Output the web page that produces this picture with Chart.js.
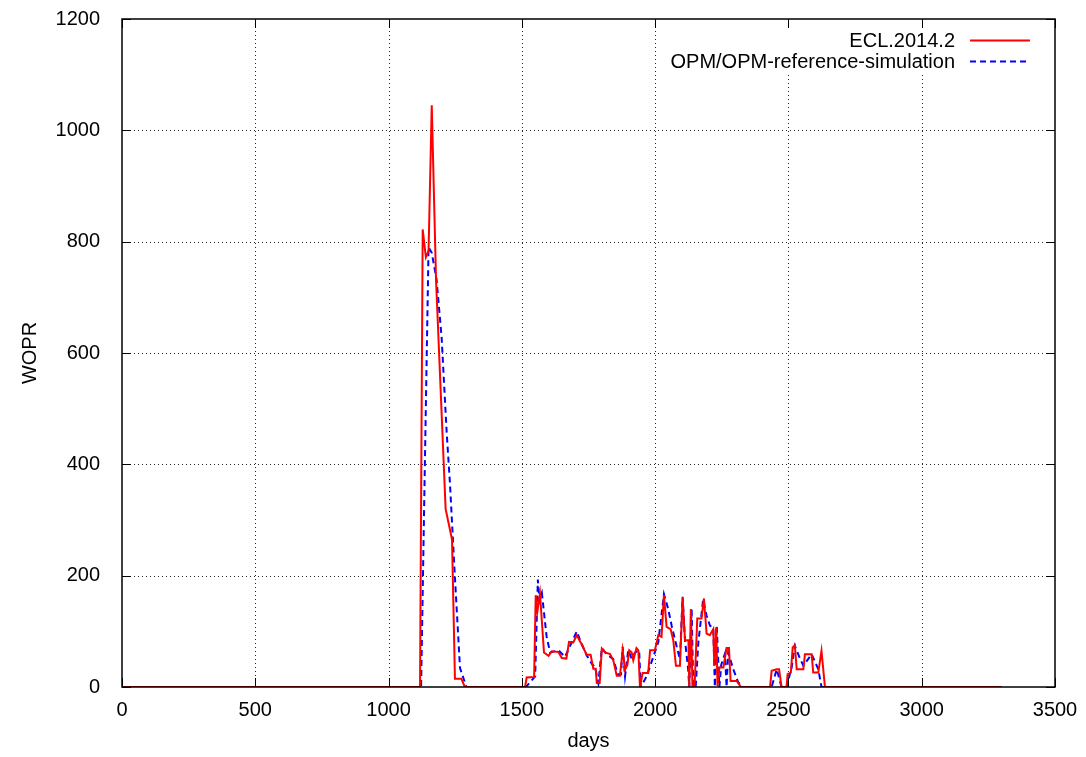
<!DOCTYPE html>
<html>
<head>
<meta charset="utf-8">
<script src="https://cdn.jsdelivr.net/npm/chart.js@4.4.1/dist/chart.umd.min.js"></script>
<style>
html,body{margin:0;padding:0;background:#fff;}
canvas{display:block;}
</style>
</head>
<body>
<canvas id="c" width="1086" height="757"></canvas>
<script>
// ---- data ----
const seriesNames = ["ECL.2014.2", "OPM/OPM-reference-simulation"];
const xTicks = [0, 500, 1000, 1500, 2000, 2500, 3000, 3500];
const yTicks = [0, 200, 400, 600, 800, 1000, 1200];

const eclDays = [0,1118,1128,1140,1150,1162,1178,1214,1238,1249,1273,1286,1512,1518,1546,1552,1558,1568,1583,1600,1612,1637,1650,1667,1677,1693,1706,1725,1743,1758,1768,1777,1781,1792,1800,1812,1831,1843,1856,1868,1878,1887,1896,1903,1912,1918,1930,1937,1943,1953,1974,1981,1999,2012,2024,2033,2043,2058,2068,2078,2093,2103,2112,2125,2128,2134,2140,2148,2158,2174,2183,2193,2205,2218,2222,2229,2234,2241,2256,2268,2277,2283,2306,2322,2431,2437,2456,2465,2474,2493,2497,2509,2516,2524,2531,2556,2562,2587,2593,2612,2624,2637,3300];
const eclWopr = [0,0,822,772,783,1045,732,320,265,15,15,0,0,17,18,165,135,168,62,56,64,63,52,51,81,80,93,76,58,58,33,33,7,7,69,62,59,48,20,20,66,31,40,66,62,48,70,66,0,25,25,66,66,93,90,165,108,104,84,38,38,160,84,84,0,140,0,0,123,123,159,96,93,104,38,107,2,35,35,70,70,11,11,0,0,29,32,32,0,0,23,26,71,75,32,32,59,59,26,26,65,0,0];

const opmDays = [0,1122,1150,1162,1180,1199,1218,1230,1249,1268,1280,1292,1515,1530,1550,1560,1566,1575,1593,1606,1637,1662,1706,1718,1743,1762,1775,1787,1800,1818,1843,1860,1872,1878,1887,1899,1912,1925,1940,1946,1968,1993,2012,2033,2049,2062,2080,2093,2103,2112,2124,2128,2137,2143,2152,2162,2180,2193,2206,2218,2224,2231,2241,2248,2262,2268,2274,2293,2312,2331,2437,2456,2474,2493,2512,2524,2540,2556,2587,2612,2624,3300];
const opmWopr = [0,0,790,780,732,628,457,368,196,34,17,0,0,8,19,193,156,169,90,62,66,54,100,85,57,42,35,7,70,59,50,23,23,72,19,66,51,62,66,0,19,54,81,167,140,110,74,50,162,84,31,0,140,0,0,80,157,128,110,107,0,110,0,40,60,0,62,32,8,0,0,32,0,0,35,74,55,38,59,32,0,0];

const toPoints = (xs, ys) => xs.map((d, i) => ({x: d, y: ys[i]}));

const FONT = "'Liberation Sans', Arial, Helvetica, sans-serif";

const decor = {
  id: 'decor',
  beforeDatasetsDraw(chart) {
    const {ctx, chartArea: a, scales: {x, y}} = chart;
    ctx.save();
    ctx.strokeStyle = 'rgba(0,0,0,0.85)';
    ctx.lineWidth = 1;
    ctx.setLineDash([1, 3]);
    ctx.beginPath();
    xTicks.forEach(v => {
      if (v <= x.min || v >= x.max) return;
      const px = Math.round(x.getPixelForValue(v)) + 0.5;
      ctx.moveTo(px, a.top); ctx.lineTo(px, a.bottom);
    });
    yTicks.forEach(v => {
      if (v <= y.min || v >= y.max) return;
      const py = Math.round(y.getPixelForValue(v)) + 0.5;
      ctx.moveTo(a.left, py); ctx.lineTo(a.right, py);
    });
    ctx.stroke();
    ctx.setLineDash([]);
    // opaque key area
    ctx.fillStyle = '#fff';
    ctx.fillRect(664, 29, 378, 46);
    ctx.restore();
  },
  afterDatasetsDraw(chart) {
    const {ctx, chartArea: a, scales: {x, y}} = chart;
    ctx.save();
    ctx.strokeStyle = '#000';
    ctx.lineWidth = 1;
    ctx.beginPath();
    const tl = 9;
    xTicks.forEach(v => {
      const px = Math.round(x.getPixelForValue(v)) + 0.5;
      ctx.moveTo(px, a.bottom); ctx.lineTo(px, a.bottom - tl);
      ctx.moveTo(px, a.top); ctx.lineTo(px, a.top + tl);
    });
    yTicks.forEach(v => {
      const py = Math.round(y.getPixelForValue(v)) + 0.5;
      ctx.moveTo(a.left, py); ctx.lineTo(a.left + tl, py);
      ctx.moveTo(a.right, py); ctx.lineTo(a.right - tl, py);
    });
    ctx.stroke();
    ctx.lineWidth = 1.5;
    ctx.strokeRect(a.left, a.top, a.right - a.left, a.bottom - a.top);

    // key
    ctx.font = '20px ' + FONT;
    ctx.fillStyle = '#000';
    ctx.textAlign = 'right';
    ctx.textBaseline = 'alphabetic';
    const ds = chart.data.datasets;
    const rows = [{ty: 47, ly: 40}, {ty: 68, ly: 61}];
    ds.forEach((d, i) => {
      ctx.fillText(d.label, 955, rows[i].ty);
      ctx.strokeStyle = d.borderColor;
      ctx.lineWidth = 2;
      ctx.setLineDash(d.borderDash || []);
      ctx.beginPath();
      ctx.moveTo(970, rows[i].ly + 0.5);
      ctx.lineTo(1030, rows[i].ly + 0.5);
      ctx.stroke();
    });
    ctx.restore();
  }
};

new Chart(document.getElementById('c'), {
  type: 'line',
  data: {
    datasets: [
      {label: seriesNames[0], data: toPoints(eclDays, eclWopr), borderColor: '#ff0000', borderWidth: 2, pointRadius: 0, tension: 0, fill: false},
      {label: seriesNames[1], data: toPoints(opmDays, opmWopr), borderColor: '#0000ff', borderWidth: 2, borderDash: [6, 4], pointRadius: 0, tension: 0, fill: false}
    ]
  },
  options: {
    responsive: false,
    animation: false,
    layout: {padding: {left: 0, right: 31, top: 19, bottom: 0}},
    plugins: {legend: {display: false}, tooltip: {enabled: false}},
    scales: {
      x: {
        type: 'linear', min: 0, max: 3500,
        afterBuildTicks: s => { s.ticks = xTicks.map(v => ({value: v})); },
        afterFit: s => { s.height = 70; s.paddingLeft = 0; s.paddingRight = 0; },
        grid: {display: false},
        border: {display: false},
        ticks: {color: '#000', font: {family: FONT, size: 20}, padding: 3, maxRotation: 0, autoSkip: false, callback: v => String(v)},
        title: {display: true, text: 'days', color: '#000', font: {family: FONT, size: 20}, padding: {top: 0, bottom: 4}}
      },
      y: {
        type: 'linear', min: 0, max: 1200,
        afterBuildTicks: s => { s.ticks = yTicks.map(v => ({value: v})); },
        afterFit: s => { s.width = 122; s.paddingTop = 0; s.paddingBottom = 0; },
        grid: {display: false},
        border: {display: false},
        ticks: {color: '#000', font: {family: FONT, size: 20}, padding: 14, callback: v => String(v)},
        title: {display: true, text: 'WOPR', color: '#000', font: {family: FONT, size: 20}, padding: {top: 18, bottom: 0}}
      }
    }
  },
  plugins: [decor]
});
</script>
</body>
</html>
